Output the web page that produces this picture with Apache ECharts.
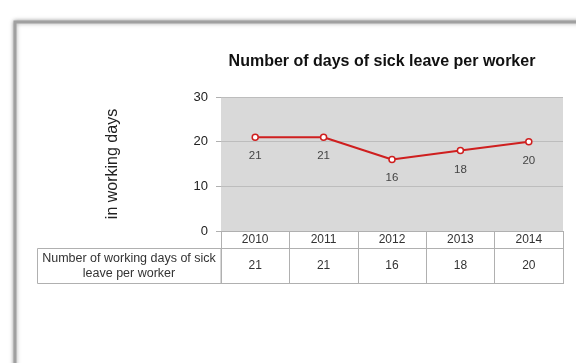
<!DOCTYPE html>
<html>
<head>
<meta charset="utf-8">
<script src="https://cdn.jsdelivr.net/npm/echarts@6/dist/echarts.min.js"></script>
<style>html,body{margin:0;padding:0;background:#fff;}#c{width:576px;height:363px;}</style>
</head>
<body>
<div id="c"></div>
<script>
var years = ['2010', '2011', '2012', '2013', '2014'];
var sickDays = [21, 21, 16, 18, 20];
var yTicks = [0, 10, 20, 30];
var chartTitle = 'Number of days of sick leave per worker';
var yAxisTitle = 'in working days';
var rowLabel = 'Number of working days of sick\nleave per worker';

var chart = echarts.init(document.getElementById('c'), null, {renderer: 'canvas'});
var font = 'Liberation Sans, Arial, sans-serif';
var option = {
  animation: false,
  backgroundColor: '#fff',
  title: {
    text: chartTitle,
    left: 377, top: 49, textAlign: 'center',
    textStyle: {fontFamily: font, fontSize: 16, fontWeight: 'bold', color: '#111'}
  },
  grid: {left: 221, right: 13, top: 97, bottom: 132, show: true, backgroundColor: '#d9d9d9', borderWidth: 0},
  xAxis: [{
    type: 'category', data: years, boundaryGap: true, position: 'bottom',
    axisLine: {show: true, lineStyle: {color: '#b0b0b0', width: 1}},
    axisTick: {show: true, length: 17, lineStyle: {color: '#b0b0b0'}},
    axisLabel: {margin: 9, color: '#333', fontFamily: font, fontSize: 12, verticalAlign: 'middle'},
    splitLine: {show: false}
  }, {
    type: 'category', data: sickDays.map(String), boundaryGap: true, position: 'bottom', offset: 17,
    axisLine: {show: true, lineStyle: {color: '#b0b0b0', width: 1}},
    axisTick: {show: true, length: 36, lineStyle: {color: '#b0b0b0'}},
    axisLabel: {margin: 18, color: '#333', fontFamily: font, fontSize: 12, verticalAlign: 'middle'}
  }],
  yAxis: {
    type: 'value', min: yTicks[0], max: yTicks[yTicks.length - 1], interval: 10,
    name: yAxisTitle, nameLocation: 'middle', nameGap: 100, nameRotate: 90,
    nameTextStyle: {fontFamily: font, fontSize: 16, color: '#222'},
    axisLine: {show: false},
    axisTick: {show: true, length: 5, lineStyle: {color: '#b0b0b0'}},
    axisLabel: {margin: 13, color: '#222', fontFamily: font, fontSize: 13},
    splitLine: {show: true, lineStyle: {color: '#bdbdbd', width: 1}}
  },
  series: [{
    type: 'line', data: sickDays, xAxisIndex: 0,
    symbol: 'circle', symbolSize: 6,
    lineStyle: {color: '#cf1f1f', width: 2},
    itemStyle: {color: '#fff', borderColor: '#cf1f1f', borderWidth: 1.5},
    label: {show: true, position: 'bottom', distance: 9, color: '#444', fontFamily: font, fontSize: 11.5}
  }],
  graphic: [
    {type: 'rect', z: -10, shape: {x: 15, y: 22, width: 700, height: 500},
     style: {fill: '#fff', stroke: '#a0a0a0', lineWidth: 3, shadowBlur: 4, shadowColor: 'rgba(0,0,0,0.35)'}},
    {type: 'rect', z: 5, shape: {x: 37.5, y: 248.5, width: 183.5, height: 35},
     style: {fill: 'none', stroke: '#b0b0b0', lineWidth: 1}},
    {type: 'line', z: 5, shape: {x1: 221, y1: 283.5, x2: 563, y2: 283.5},
     style: {stroke: '#b0b0b0', lineWidth: 1}},
    {type: 'text', z: 6, x: 129, y: 266,
     style: {text: rowLabel, fill: '#333', font: '12.5px Liberation Sans, Arial, sans-serif', textAlign: 'center', textVerticalAlign: 'middle', lineHeight: 15}}
  ]
};
chart.setOption(option);
</script>
</body>
</html>
